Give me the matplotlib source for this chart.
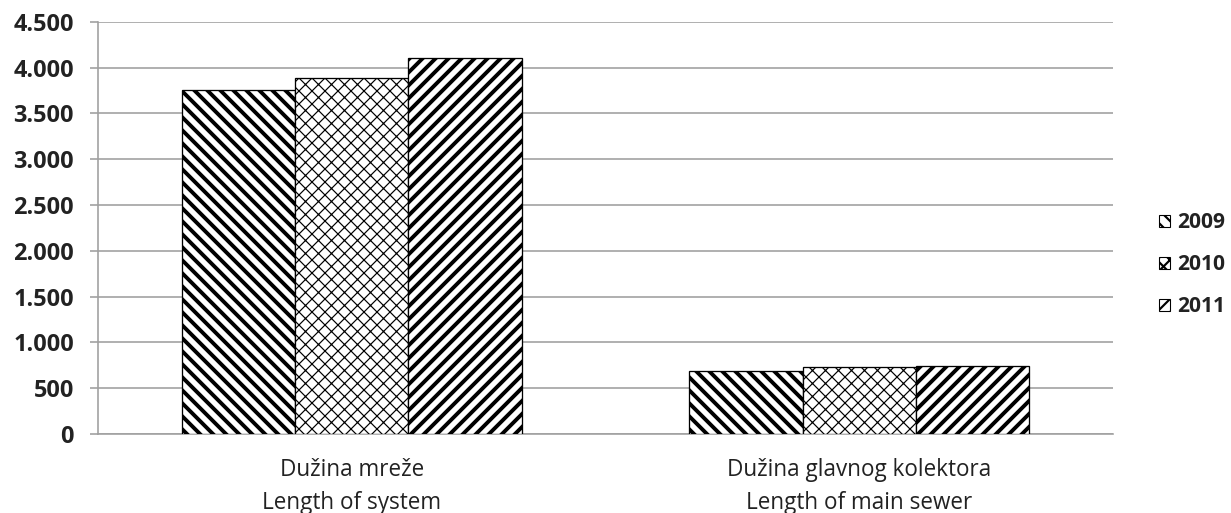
import matplotlib.pyplot as plt
from matplotlib.patches import Patch
from matplotlib.ticker import FuncFormatter
import numpy as np

# data
categories = ['Dužina mreže\nLength of system', 'Dužina glavnog kolektora\nLength of main sewer']
years = ['2009', '2010', '2011']
v2009 = [3750, 685]
v2010 = [3885, 730]
v2011 = [4100, 740]

DPI = 78
W, H = 1231, 513

def px(p):  # pixels -> points
    return p * 72.0 / DPI

plt.rcParams['font.family'] = ['Open Sans', 'DejaVu Sans']

fig = plt.figure(figsize=(W / DPI, H / DPI), dpi=DPI)
ax = fig.add_axes([98 / W, (H - 434) / H, (1113 - 98) / W, (434 - 21.7) / H])

x = np.arange(len(categories))
bw = 0.223
styles = [('\\\\', 3.6), ('xx', 1.1), ('//', 3.6)]
series = [v2009, v2010, v2011]
for i, (vals, (hatch, hlw)) in enumerate(zip(series, styles)):
    with plt.rc_context({'hatch.linewidth': hlw, 'hatch.color': 'black'}):
        bars = ax.bar(x + (i - 1) * bw, vals, bw, color='white', edgecolor='black',
                      hatch=hatch, linewidth=1.2, zorder=3)

ax.set_xlim(-0.5, 1.5)
ax.set_ylim(0, 4500)
ax.set_yticks(np.arange(0, 4501, 500))
ax.yaxis.set_major_formatter(FuncFormatter(lambda v, p: f'{int(v):,}'.replace(',', '.')))
ax.grid(axis='y', color='#a0a0a0', linewidth=1.5, zorder=0)
ax.set_xticks(x)
ax.set_xticklabels(categories, fontsize=px(22.5), color='#222222', linespacing=1.5)
ax.tick_params(axis='x', length=0, pad=px(24))
ax.tick_params(axis='y', length=px(8), width=1.5, color='#a0a0a0', pad=px(16), labelsize=px(23.5))
for lab in ax.get_yticklabels():
    lab.set_fontweight('bold')
    lab.set_color('#222222')
for s in ['top', 'right']:
    ax.spines[s].set_visible(False)
for s in ['left', 'bottom']:
    ax.spines[s].set_color('#a0a0a0')
    ax.spines[s].set_linewidth(1.5)

handles = []
for (hatch, hlw), y in zip(styles, years):
    with plt.rc_context({'hatch.linewidth': min(hlw, 2.0), 'hatch.color': 'black'}):
        handles.append(Patch(facecolor='white', edgecolor='black', hatch=hatch, label=y))
with plt.rc_context({'hatch.linewidth': 2.0}):
    leg = fig.legend(handles=handles, loc='center left', bbox_to_anchor=(1140 / W, (H - 265) / H),
                     frameon=False, prop={'weight': 'bold', 'size': px(21)},
                     handlelength=0.55, handleheight=0.55, handletextpad=0.3, labelspacing=1.0)
for t in leg.get_texts():
    t.set_color('#222222')

fig.savefig('out.png', dpi=DPI)
